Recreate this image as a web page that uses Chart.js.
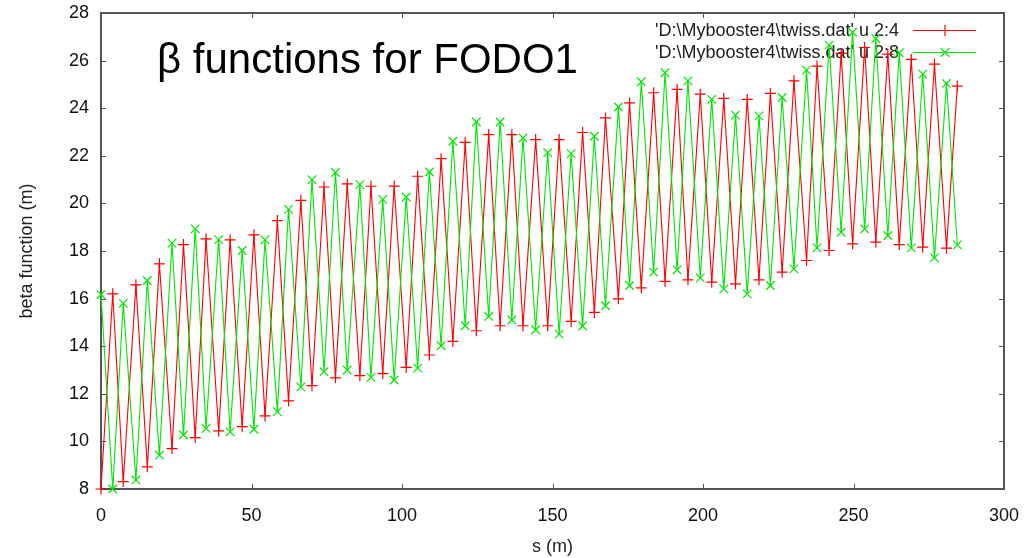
<!DOCTYPE html>
<html>
<head>
<meta charset="utf-8">
<title>beta functions FODO1</title>
<script src="https://cdn.jsdelivr.net/npm/chart.js@4.4.1/dist/chart.umd.min.js"></script>
<style>
  html, body { margin: 0; padding: 0; background: #fff; }
  canvas { display: block; }
</style>
</head>
<body>
<canvas id="grafico" width="1036" height="558"></canvas>
<script>
// posiciones s (m) de cada punto del fichero twiss.dat
const posS = [
  0, 3.9, 7.4, 11.6, 15.4, 19.4, 23.6, 27.4, 31.3, 34.9,
  39.1, 42.9, 46.9, 50.8, 54.5, 58.6, 62.3, 66.4, 70.1, 74.1,
  77.9, 81.8, 86.0, 89.7, 93.6, 97.4, 101.4, 105.2, 109.1, 113.0,
  116.9, 121.0, 124.7, 128.8, 132.6, 136.5, 140.2, 144.4, 148.4, 152.2,
  156.2, 160.0, 163.9, 167.6, 171.9, 175.6, 179.5, 183.6, 187.4, 191.4,
  195.0, 199.1, 202.9, 206.9, 210.8, 214.7, 218.6, 222.4, 226.3, 230.2,
  234.4, 237.9, 241.9, 245.9, 249.7, 253.7, 257.4, 261.4, 265.2, 269.2,
  273.0, 276.9, 280.9, 284.5
];

// columna 4 (beta x)
const betaCol4 = [
  8.0, 16.2, 8.31, 16.58, 8.93, 17.46, 9.7, 18.27, 10.16, 18.51,
  10.44, 18.47, 10.62, 18.68, 11.07, 19.28, 11.7, 20.13, 12.34, 20.69,
  12.67, 20.82, 12.76, 20.72, 12.85, 20.73, 13.11, 21.14, 13.63, 21.88,
  14.2, 22.56, 14.65, 22.89, 14.86, 22.89, 14.86, 22.68, 14.86, 22.68,
  15.04, 22.98, 15.42, 23.59, 15.99, 24.22, 16.45, 24.65, 16.72, 24.79,
  16.79, 24.59, 16.69, 24.41, 16.62, 24.37, 16.79, 24.62, 17.11, 25.15,
  17.6, 25.77, 18.02, 26.3, 18.3, 26.55, 18.37, 26.27, 18.27, 26.05,
  18.16, 25.85, 18.12, 24.93
];

// columna 8 (beta y)
const betaCol8 = [
  16.17, 8.0, 15.8, 8.38, 16.76, 9.42, 18.33, 10.27, 18.93, 10.55,
  18.48, 10.4, 18.02, 10.51, 18.47, 11.25, 19.75, 12.29, 21.0, 12.93,
  21.3, 13.0, 20.79, 12.69, 20.17, 12.58, 20.27, 13.08, 21.32, 14.02,
  22.61, 14.86, 23.42, 15.25, 23.42, 15.1, 22.75, 14.69, 22.13, 14.51,
  22.09, 14.85, 22.82, 15.7, 24.05, 16.55, 25.11, 17.11, 25.49, 17.21,
  25.15, 16.87, 24.37, 16.41, 23.71, 16.2, 23.68, 16.55, 24.45, 17.25,
  25.6, 18.13, 26.65, 18.79, 27.19, 18.93, 26.93, 18.65, 26.33, 18.13,
  25.43, 17.71, 25.04, 18.26
];

const ticksX = [0, 50, 100, 150, 200, 250, 300];
const ticksY = [8, 10, 12, 14, 16, 18, 20, 22, 24, 26, 28];

const etiquetas = [
  "'D:\\Mybooster4\\twiss.dat' u 2:4",
  "'D:\\Mybooster4\\twiss.dat' u 2:8"
];
const titulo = 'β functions for FODO1';

const ROJO = '#ff0000';
const VERDE = '#00e600';
const FUENTE = "'Liberation Sans', Arial, sans-serif";

const puntos = (vals) => posS.map((s, i) => ({ x: s, y: vals[i] }));

// marco con marcas hacia dentro, título interior y leyenda estilo gnuplot
const marcoGnuplot = {
  id: 'marcoGnuplot',
  beforeDatasetsDraw(chart) {
    const { ctx, chartArea: a, scales } = chart;
    ctx.save();

    ctx.strokeStyle = '#555';
    ctx.lineWidth = 1;
    ctx.beginPath();
    scales.x.ticks.forEach(t => {
      const px = Math.round(scales.x.getPixelForValue(t.value)) + 0.5;
      ctx.moveTo(px, a.bottom); ctx.lineTo(px, a.bottom - 5);
      ctx.moveTo(px, a.top); ctx.lineTo(px, a.top + 5);
    });
    scales.y.ticks.forEach(t => {
      const py = Math.round(scales.y.getPixelForValue(t.value)) + 0.5;
      ctx.moveTo(a.left, py); ctx.lineTo(a.left + 5, py);
      ctx.moveTo(a.right, py); ctx.lineTo(a.right - 5, py);
    });
    ctx.stroke();
    ctx.lineWidth = 2;
    ctx.strokeRect(a.left, a.top, a.right - a.left, a.bottom - a.top);

    // título dentro del área
    ctx.fillStyle = '#000';
    ctx.font = '42px ' + FUENTE;
    ctx.textAlign = 'left';
    ctx.textBaseline = 'alphabetic';
    ctx.fillText(titulo, a.left + 56, a.top + 60);

    // leyenda
    ctx.font = '18px ' + FUENTE;
    ctx.textAlign = 'right';
    ctx.textBaseline = 'middle';
    chart.data.datasets.forEach((ds, i) => {
      const y = Math.round(a.top + 17 + i * 21.5) + 0.5;
      ctx.fillStyle = '#222';
      ctx.fillText(ds.label, a.right - 105, y + 1);
      ctx.strokeStyle = ds.borderColor;
      ctx.lineWidth = 1;
      ctx.beginPath();
      ctx.moveTo(a.right - 91, y);
      ctx.lineTo(a.right - 28, y);
      ctx.stroke();
      ctx.lineWidth = 1.2;
      Chart.helpers.drawPoint(ctx, {
        pointStyle: ds.pointStyle, radius: ds.pointRadius, rotation: 0, borderWidth: 1.2
      }, a.right - 59, y);
    });

    ctx.restore();
  }
};

new Chart(document.getElementById('grafico'), {
  type: 'line',
  data: {
    datasets: [
      {
        label: etiquetas[0],
        data: puntos(betaCol4),
        borderColor: ROJO,
        backgroundColor: ROJO,
        borderWidth: 1.1,
        pointStyle: 'cross',
        pointRadius: 5.5,
        pointBorderWidth: 1.2,
        pointBorderColor: ROJO,
        tension: 0,
        clip: false,
        order: 2
      },
      {
        label: etiquetas[1],
        data: puntos(betaCol8),
        borderColor: VERDE,
        backgroundColor: VERDE,
        borderWidth: 1.1,
        pointStyle: 'crossRot',
        pointRadius: 6,
        pointBorderWidth: 1.2,
        pointBorderColor: VERDE,
        tension: 0,
        clip: false,
        order: 1
      }
    ]
  },
  options: {
    responsive: false,
    animation: false,
    devicePixelRatio: 1,
    layout: { padding: { top: 13, right: 32, left: 0, bottom: 0 } },
    plugins: {
      legend: { display: false },
      tooltip: { enabled: false }
    },
    scales: {
      x: {
        type: 'linear',
        min: 0,
        max: 300,
        afterBuildTicks: (s) => { s.ticks = ticksX.map(v => ({ value: v })); },
        afterFit: (s) => { s.height = 69; s.paddingLeft = 0; s.paddingRight = 0; },
        grid: { display: false, drawTicks: false },
        border: { display: false },
        ticks: {
          color: '#111',
          padding: 16,
          maxRotation: 0,
          font: { family: FUENTE, size: 18 }
        },
        title: {
          display: true,
          text: 's (m)',
          color: '#222',
          padding: { top: 0, bottom: 0 },
          font: { family: FUENTE, size: 18 }
        }
      },
      y: {
        type: 'linear',
        min: 8,
        max: 28,
        afterBuildTicks: (s) => { s.ticks = ticksY.map(v => ({ value: v })); },
        afterFit: (s) => { s.width = 101; s.paddingTop = 0; s.paddingBottom = 0; },
        grid: { display: false, drawTicks: false },
        border: { display: false },
        ticks: {
          color: '#111',
          padding: 12,
          font: { family: FUENTE, size: 18 }
        },
        title: {
          display: true,
          text: 'beta function (m)',
          color: '#222',
          padding: { top: 16, bottom: 0 },
          font: { family: FUENTE, size: 18 }
        }
      }
    }
  },
  plugins: [marcoGnuplot]
});
</script>
</body>
</html>
